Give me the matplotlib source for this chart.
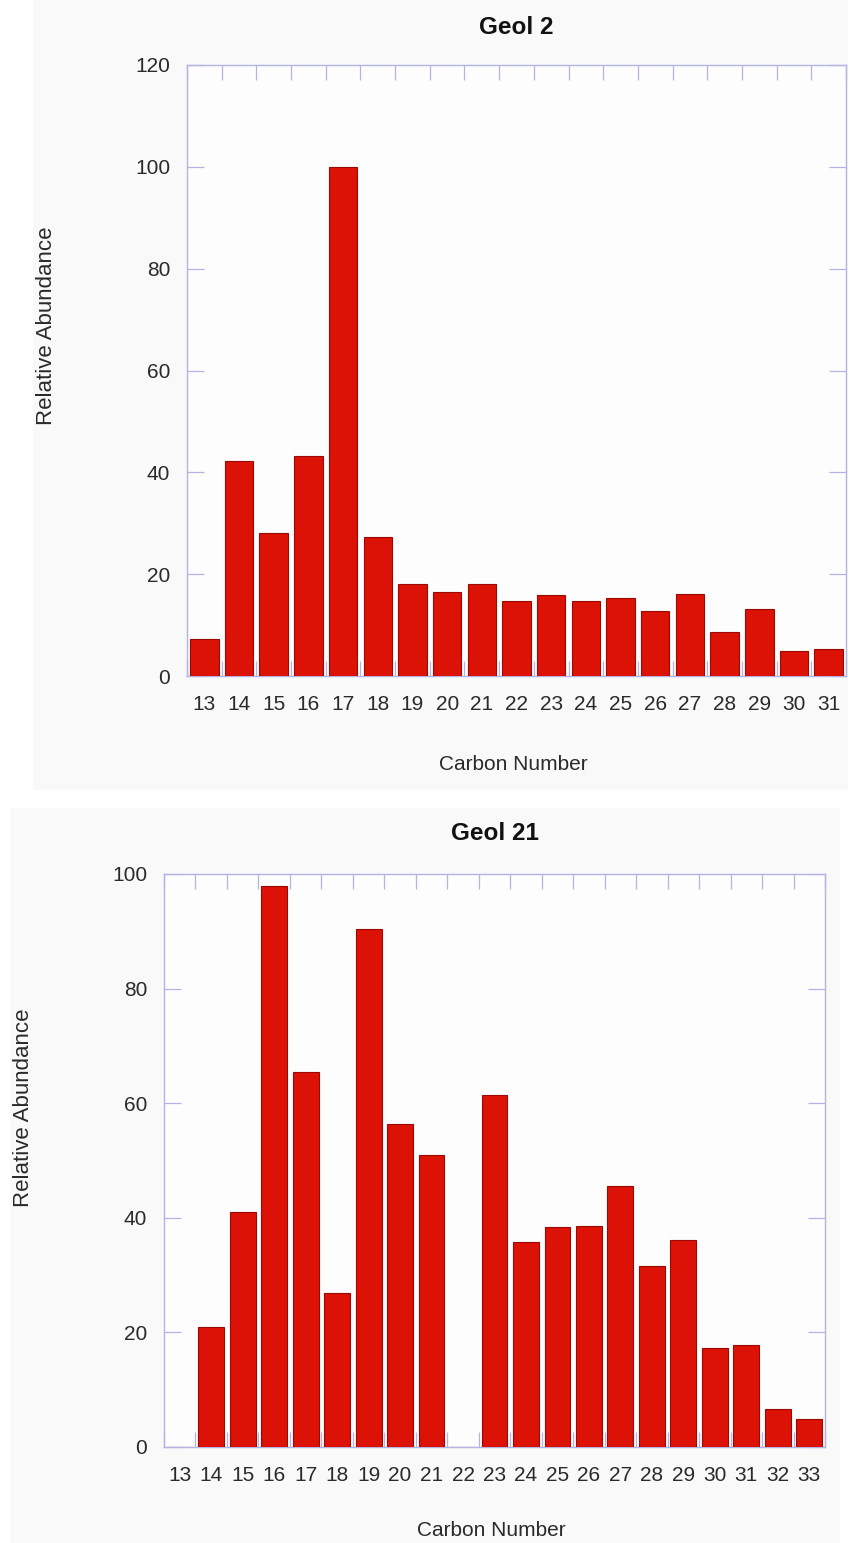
import matplotlib
matplotlib.use("Agg")
import matplotlib.pyplot as plt
from matplotlib.patches import Rectangle
import numpy as np

plt.rcParams['font.family'] = ['Liberation Sans', 'DejaVu Sans']

# Data
carbon_geol2 = list(range(13, 32))
abund_geol2 = [7.3, 42.3, 28.0, 43.3, 100.0, 27.3, 18.0, 16.5, 18.0, 14.7,
               15.9, 14.8, 15.4, 12.7, 16.1, 8.6, 13.1, 4.9, 5.3]

carbon_geol21 = list(range(13, 34))
abund_geol21 = [0.0, 21.0, 41.0, 97.9, 65.4, 26.9, 90.4, 56.4, 51.0, 0.0,
                61.4, 35.8, 38.4, 38.6, 45.5, 31.6, 36.1, 17.3, 17.8, 6.6, 4.9]

titles = ["Geol 2", "Geol 21"]
ylims = [(0, 120), (0, 100)]
yticks = [[0, 20, 40, 60, 80, 100, 120], [0, 20, 40, 60, 80, 100]]

W, H = 849, 1543
fig = plt.figure(figsize=(W / 100, H / 100), dpi=100)
fig.patch.set_facecolor('white')

# faint panel backgrounds
fig.patches.append(Rectangle((33 / W, 1 - 790 / H), (848 - 33) / W, 790 / H, transform=fig.transFigure,
                             facecolor='#f9f9f9', edgecolor='none', zorder=-10))
fig.patches.append(Rectangle((10 / W, 0), (840 - 10) / W, (H - 808) / H, transform=fig.transFigure,
                             facecolor='#f9f9f9', edgecolor='none', zorder=-10))

spine_c = '#b4b4e4'
bar_c = '#dd1206'
edge_c = '#9a0a04'
text_c = '#2a2a2a'

# (left, top, right, bottom) in pixels
boxes = [(187, 65, 846, 676), (164, 874, 825, 1447)]
title_y = [27, 833]
ylab_x = [47, 24]
ylab_y = [326, 1108]
xlab_y = [765, 1530]

datasets = [(carbon_geol2, abund_geol2), (carbon_geol21, abund_geol21)]

for i, (xs, ys) in enumerate(datasets):
    l, t, r, b = boxes[i]
    ax = fig.add_axes([l / W, 1 - b / H, (r - l) / W, (b - t) / H])
    ax.set_facecolor('#fdfdfd')
    ax.bar(xs, ys, width=0.82, color=bar_c, edgecolor=edge_c, linewidth=0.8, zorder=3)
    ax.set_xlim(xs[0] - 0.5, xs[-1] + 0.5)
    ax.set_ylim(*ylims[i])
    ax.set_yticks(yticks[i])
    ax.set_xticks(xs)
    ax.set_xticklabels([str(v) for v in xs])
    ax.set_xticks(np.arange(xs[0] - 0.5, xs[-1] + 0.6, 1.0), minor=True)
    ax.tick_params(axis='x', which='major', length=0, pad=14, labelsize=15, labelcolor=text_c)
    ax.tick_params(axis='x', which='minor', direction='in', length=11, width=0.9,
                   color=spine_c, top=True, bottom=True)
    ax.tick_params(axis='y', which='major', direction='in', length=12, width=0.9,
                   color=spine_c, left=True, right=True, pad=12, labelsize=15,
                   labelcolor=text_c)
    for s in ax.spines.values():
        s.set_color(spine_c)
        s.set_linewidth(1.0)
    cx = (l + r) / 2
    fig.text(cx / W, 1 - title_y[i] / H, titles[i], ha='center', va='center',
             fontsize=17.5, fontweight='bold', color='#111111')
    fig.text(ylab_x[i] / W, 1 - ylab_y[i] / H, 'Relative Abundance', rotation=90,
             ha='center', va='center', fontsize=16, color=text_c)
    fig.text((cx - 3) / W, 1 - xlab_y[i] / H, 'Carbon Number', ha='center', va='center',
             fontsize=15, color=text_c)

fig.savefig('out.png', dpi=100)
